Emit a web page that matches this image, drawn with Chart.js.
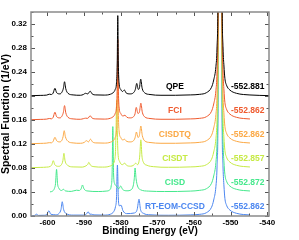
<!DOCTYPE html>
<html>
<head>
<meta charset="utf-8">
<script src="https://cdn.jsdelivr.net/npm/chart.js@4/dist/chart.umd.min.js"></script>
<style>
  html, body { margin: 0; padding: 0; background: #fff; }
  #grafico { display: block; }
</style>
</head>
<body>
<canvas id="grafico" width="299" height="240"></canvas>
<script>
// --- Dados: [energia de ligação (eV), função espectral (1/eV)] ---
const qpe = [[-604.5,0.2005],[-602,0.201],[-600.2,0.2015],[-599.5,0.203],[-598.9,0.2025],[-598.45,0.205],[-597.96,0.2128],[-597.5,0.2055],[-596.6,0.2035],[-596.0,0.207],[-595.65,0.213],[-595.34,0.2238],[-595.0,0.212],[-594.4,0.2045],[-593,0.2018],[-591,0.2012],[-590.2,0.2025],[-589.62,0.2045],[-589.0,0.2035],[-588.34,0.208],[-587.8,0.2035],[-586.8,0.2018],[-584.5,0.2015],[-582.8,0.203],[-581.9,0.2065],[-581.5,0.211],[-581.15,0.222],[-580.95,0.255],[-580.8,0.334],[-580.65,0.255],[-580.45,0.222],[-580.0,0.211],[-579.5,0.2075],[-579.0,0.21],[-578.5,0.205],[-577.5,0.2035],[-576.5,0.2055],[-576.0,0.211],[-575.62,0.221],[-575.2,0.211],[-574.9,0.213],[-574.53,0.228],[-574.15,0.213],[-573.5,0.2055],[-572,0.2025],[-569,0.2012],[-565,0.2012],[-561,0.2018],[-558.4,0.2028],[-556.6,0.2055],[-555.2,0.2145],[-554.6,0.2267],[-554.0,0.249],[-553.7,0.28],[-553.4,0.4],[-552.88,1.6],[-552.35,0.4],[-552.05,0.28],[-551.8,0.25],[-551.55,0.2295],[-551.1,0.218],[-550.2,0.21],[-548.4,0.2045],[-546.5,0.2025],[-544.7,0.2017],[-542,0.201],[-539.5,0.2006]];

const fci = [[-604.5,0.1605],[-602,0.161],[-600.2,0.1615],[-599.5,0.1625],[-598.9,0.162],[-598.45,0.1645],[-597.96,0.173],[-597.5,0.1655],[-596.6,0.1635],[-596.0,0.167],[-595.65,0.173],[-595.34,0.184],[-595.0,0.172],[-594.4,0.1645],[-593,0.1618],[-591,0.1612],[-590.2,0.1622],[-589.62,0.163],[-589.0,0.1628],[-588.34,0.167],[-587.8,0.1632],[-586.8,0.1618],[-584.5,0.1615],[-582.8,0.163],[-581.9,0.1665],[-581.5,0.171],[-581.15,0.182],[-580.95,0.215],[-580.8,0.295],[-580.65,0.215],[-580.45,0.182],[-580.0,0.171],[-579.4,0.1665],[-578.85,0.168],[-578.3,0.1645],[-577.5,0.1635],[-576.5,0.1655],[-576.1,0.17],[-575.75,0.181],[-575.3,0.171],[-574.9,0.173],[-574.5,0.188],[-574.1,0.173],[-573.5,0.1655],[-572,0.1625],[-569,0.1612],[-565,0.1612],[-561,0.1618],[-558.4,0.1628],[-556.6,0.1655],[-555.2,0.1745],[-554.6,0.1867],[-554.0,0.209],[-553.7,0.24],[-553.4,0.36],[-552.86,1.6],[-552.35,0.36],[-552.05,0.24],[-551.8,0.21],[-551.55,0.1895],[-551.1,0.178],[-550.2,0.17],[-548.4,0.1645],[-546.5,0.1625],[-544.7,0.1617]];

const cisdtq = [[-604.5,0.1205],[-602,0.121],[-600.2,0.1215],[-599.5,0.1222],[-598.9,0.122],[-598.45,0.1245],[-597.96,0.1312],[-597.5,0.1255],[-596.6,0.1235],[-596.0,0.127],[-595.75,0.132],[-595.43,0.1422],[-595.1,0.132],[-594.4,0.1245],[-593,0.1218],[-591,0.1212],[-590.0,0.1225],[-589.35,0.1255],[-588.8,0.1235],[-588.26,0.128],[-587.7,0.1235],[-586.8,0.1218],[-584.5,0.1215],[-582.8,0.123],[-581.9,0.1265],[-581.5,0.131],[-581.15,0.142],[-580.95,0.175],[-580.8,0.253],[-580.65,0.175],[-580.45,0.142],[-580.0,0.131],[-579.4,0.1265],[-579.0,0.128],[-578.4,0.1245],[-577.5,0.1235],[-576.5,0.1255],[-576.1,0.13],[-575.7,0.14],[-575.3,0.131],[-574.9,0.134],[-574.5,0.15],[-574.1,0.134],[-573.5,0.1255],[-572,0.1225],[-569,0.1212],[-565,0.1212],[-561,0.1218],[-558.4,0.1228],[-556.6,0.1255],[-555.2,0.1345],[-554.6,0.1467],[-554.0,0.169],[-553.7,0.2],[-553.4,0.32],[-552.86,1.6],[-552.35,0.32],[-552.05,0.2],[-551.8,0.17],[-551.55,0.1495],[-551.1,0.138],[-550.2,0.13],[-548.4,0.1245],[-546.5,0.1225],[-544.7,0.1217]];

const cisdt = [[-604.5,0.0805],[-602,0.081],[-600.2,0.0815],[-599.3,0.0825],[-598.8,0.0855],[-598.42,0.0922],[-598.0,0.0855],[-597.0,0.0828],[-596.2,0.0855],[-595.8,0.092],[-595.51,0.1045],[-595.2,0.092],[-594.5,0.0845],[-593,0.0818],[-590.5,0.0815],[-589.5,0.0835],[-589.0,0.086],[-588.7,0.0895],[-588.3,0.085],[-587.3,0.0822],[-585,0.0815],[-583,0.083],[-582.1,0.0865],[-581.7,0.092],[-581.45,0.105],[-581.3,0.135],[-581.1,0.193],[-580.9,0.135],[-580.75,0.105],[-580.3,0.091],[-579.6,0.0855],[-578.9,0.088],[-578.4,0.0845],[-577.3,0.083],[-576.5,0.0845],[-575.9,0.088],[-575.4,0.0855],[-575.0,0.091],[-574.8,0.1],[-574.5,0.127],[-574.2,0.1],[-573.8,0.0895],[-572.8,0.0845],[-571,0.0822],[-567,0.0812],[-561,0.0818],[-558.4,0.0828],[-556.6,0.0855],[-555.2,0.0945],[-554.6,0.1067],[-554.0,0.129],[-553.7,0.16],[-553.4,0.28],[-552.857,1.6],[-552.35,0.28],[-552.05,0.16],[-551.8,0.13],[-551.55,0.1095],[-551.1,0.098],[-550.2,0.09],[-548.4,0.0845],[-546.5,0.0825],[-544.7,0.0817]];

const cisd = [[-599.3,0.0402],[-598.6,0.0415],[-598.1,0.046],[-597.8,0.054],[-597.52,0.0778],[-597.25,0.054],[-596.9,0.0465],[-596.2,0.0425],[-595.62,0.0445],[-595.1,0.0418],[-593.5,0.041],[-592.07,0.043],[-591.3,0.0425],[-590.8,0.0455],[-590.44,0.0517],[-590.05,0.0455],[-589.2,0.0418],[-586,0.0408],[-584,0.0415],[-583.0,0.0435],[-582.6,0.05],[-582.35,0.07],[-582.15,0.149],[-581.95,0.07],[-581.65,0.054],[-581.2,0.05],[-580.5,0.0455],[-580.0,0.05],[-579.5,0.0445],[-578.3,0.042],[-577.2,0.0435],[-576.6,0.05],[-576.3,0.062],[-576.08,0.08],[-575.8,0.062],[-575.4,0.05],[-574.5,0.0435],[-572.5,0.0415],[-568,0.0408],[-561,0.0415],[-558.4,0.0428],[-556.6,0.0455],[-555.2,0.0545],[-554.6,0.0667],[-554.0,0.089],[-553.7,0.12],[-553.4,0.24],[-552.872,1.6],[-552.35,0.24],[-552.05,0.12],[-551.8,0.09],[-551.55,0.0695],[-551.1,0.058],[-550.2,0.05],[-548.4,0.0445],[-546.5,0.0425],[-544.7,0.0417]];

const rtEomCcsd = [[-604.5,0.0004],[-603.5,0.001],[-602.97,0.003],[-602.5,0.001],[-601,0.0012],[-600.2,0.0025],[-599.6,0.0088],[-599.1,0.003],[-597.8,0.002],[-596.8,0.0045],[-596.3,0.011],[-595.97,0.0238],[-595.6,0.011],[-594.9,0.004],[-593,0.0015],[-590.5,0.0015],[-589.4,0.003],[-588.9,0.0072],[-588.45,0.003],[-587.99,0.003],[-587.3,0.0018],[-584.5,0.0015],[-582.8,0.003],[-581.9,0.0075],[-581.45,0.015],[-581.15,0.03],[-580.9,0.085],[-580.65,0.03],[-580.4,0.017],[-579.9,0.018],[-579.4,0.009],[-578.4,0.004],[-576.3,0.005],[-575.5,0.011],[-575.0,0.028],[-574.6,0.011],[-573.8,0.0045],[-572,0.002],[-567,0.0012],[-561,0.0018],[-558.4,0.0028],[-556.6,0.0055],[-555.2,0.0145],[-554.6,0.0267],[-554.0,0.049],[-553.7,0.08],[-553.4,0.2],[-552.862,1.6],[-552.35,0.2],[-552.05,0.08],[-551.8,0.05],[-551.55,0.0295],[-551.1,0.018],[-550.2,0.01],[-548.4,0.0045],[-546.5,0.0025],[-544.7,0.0017]];

const nomes = ['QPE', 'FCI', 'CISDTQ', 'CISDT', 'CISD', 'RT-EOM-CCSD'];
const energiaPico = ['-552.881', '-552.862', '-552.862', '-552.857', '-552.872', '-552.862'];
const deslocamento = [0.20, 0.16, 0.12, 0.08, 0.04, 0.00]; // linha de base de cada curva
const cores = ['#000000', '#ef5a2e', '#fba844', '#c6ea45', '#45e88c', '#4b86f0'];
const series = [qpe, fci, cisdtq, cisdt, cisd, rtEomCcsd];

const xTicks = [-600, -590, -580, -570, -560, -550, -540];
const yTicks = [0.00, 0.04, 0.08, 0.12, 0.16, 0.20, 0.24, 0.28, 0.32];

const fonte = "'Liberation Sans', Arial, sans-serif";

// Moldura cinza e marcas de escala para dentro (nos 4 lados)
const moldura = {
  id: 'moldura',
  afterDraw(chart) {
    const { ctx, chartArea: a, scales: { x, y } } = chart;
    ctx.save();
    ctx.strokeStyle = '#555';
    ctx.lineWidth = 1;
    ctx.beginPath();
    for (let v = -600; v <= -540; v += 5) {
      const px = Math.round(x.getPixelForValue(v)) + 0.5;
      const len = v % 10 === 0 ? 4 : 2.5;
      ctx.moveTo(px, a.bottom); ctx.lineTo(px, a.bottom - len);
      ctx.moveTo(px, a.top); ctx.lineTo(px, a.top + len);
    }
    for (let v = 0; v <= 0.34001; v += 0.02) {
      const py = Math.round(y.getPixelForValue(v)) + 0.5;
      const len = Math.round(v * 100) % 4 === 0 ? 4 : 2.5;
      ctx.moveTo(a.left, py); ctx.lineTo(a.left + len, py);
      ctx.moveTo(a.right, py); ctx.lineTo(a.right - len, py);
    }
    ctx.stroke();
    ctx.strokeStyle = '#8a8a8a';
    ctx.lineWidth = 1.5;
    ctx.strokeRect(a.left, a.top, a.right - a.left, a.bottom - a.top);
    ctx.restore();
  }
};

// Rótulos de cada curva (nome e energia do pico principal)
const rotulos = {
  id: 'rotulos',
  afterDatasetsDraw(chart) {
    const { ctx, scales: { x, y } } = chart;
    ctx.save();
    ctx.font = 'bold 8.5px ' + fonte;
    ctx.textBaseline = 'middle';
    nomes.forEach((n, i) => {
      const py = y.getPixelForValue(deslocamento[i] + 0.0155);
      ctx.fillStyle = cores[i];
      ctx.textAlign = 'center';
      ctx.fillText(n, x.getPixelForValue(-565.2), py);
      ctx.textAlign = 'left';
      ctx.fillText(energiaPico[i], x.getPixelForValue(-549.9), py);
    });
    ctx.restore();
  }
};

const ctx = document.getElementById('grafico').getContext('2d');

new Chart(ctx, {
  type: 'line',
  data: {
    datasets: series.map((s, i) => ({
      label: nomes[i],
      data: s.map(p => ({ x: p[0], y: p[1] })),
      borderColor: cores[i],
      borderWidth: 1,
      pointRadius: 0,
      fill: false,
      cubicInterpolationMode: 'monotone'
    }))
  },
  options: {
    responsive: false,
    animation: false,
    devicePixelRatio: 1,
    layout: { padding: { top: 12, right: 30, left: 0, bottom: 0 } },
    plugins: { legend: { display: false }, tooltip: { enabled: false } },
    scales: {
      x: {
        type: 'linear',
        min: -604.5,
        max: -539.5,
        afterBuildTicks: s => { s.ticks = xTicks.map(v => ({ value: v })); },
        afterFit: s => { s.height = 24; },
        ticks: { color: '#000', font: { family: fonte, size: 8, weight: 'bold' }, padding: 2, maxRotation: 0 },
        grid: { display: false, drawTicks: false },
        border: { display: false },
        title: { display: true, text: 'Binding Energy (eV)', color: '#000', font: { family: fonte, size: 10, weight: 'bold' }, padding: { top: 0, bottom: 3 } }
      },
      y: {
        min: 0,
        max: 0.34,
        afterBuildTicks: s => { s.ticks = yTicks.map(v => ({ value: v })); },
        afterFit: s => { s.width = 31; },
        ticks: { color: '#000', font: { family: fonte, size: 8, weight: 'bold' }, padding: 4, callback: v => v.toFixed(2) },
        grid: { display: false, drawTicks: false },
        border: { display: false },
        title: { display: true, text: 'Spectral Function (1/eV)', color: '#000', font: { family: fonte, size: 10.5, weight: 'bold' }, padding: 0 }
      }
    }
  },
  plugins: [rotulos, moldura]
});
</script>
</body>
</html>
